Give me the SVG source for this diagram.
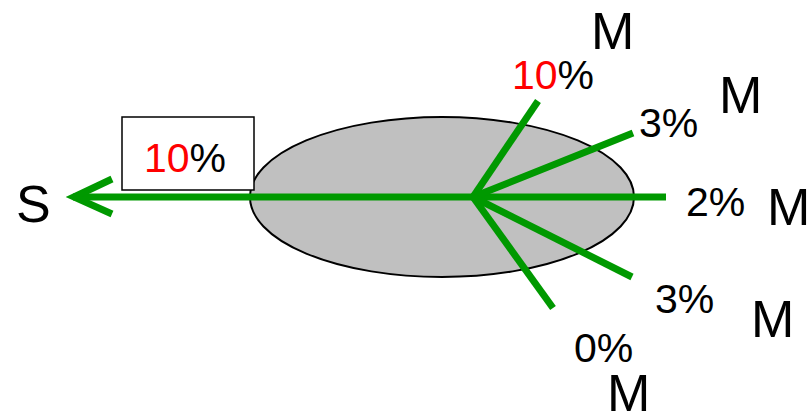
<svg xmlns="http://www.w3.org/2000/svg" width="809" height="419" viewBox="0 0 809 419">
  <style>
    .t { font-family: "Liberation Sans", Arial, sans-serif; fill: #000; }
    .big { font-size: 52px; }
    .pct { font-size: 41px; }
    .red { fill: #ff0000; }
    .flow { stroke: #009900; stroke-width: 7; fill: none; stroke-linecap: butt; }
  </style>
  <g id="cell">
    <ellipse cx="442" cy="197" rx="192" ry="80" fill="#c0c0c0" stroke="#000" stroke-width="2"/>
  </g>
  <g id="connectors">
    <line class="flow" x1="666" y1="197" x2="73" y2="197"/>
    <polyline class="flow" points="112,179 74,197 112,214" stroke-linecap="round" stroke-linejoin="miter"/>
    <line class="flow" x1="473" y1="197" x2="538" y2="101"/>
    <line class="flow" x1="473" y1="197" x2="633" y2="133"/>
    <line class="flow" x1="473" y1="197" x2="632" y2="277"/>
    <line class="flow" x1="473" y1="197" x2="553" y2="308"/>
  </g>
  <g id="label-box">
    <rect x="122" y="117" width="132" height="73" fill="#fff" stroke="#000" stroke-width="1.5"/>
    <text class="t pct" x="144" y="172"><tspan class="red">10</tspan>%</text>
  </g>
  <g id="node-S"><text class="t big" x="16" y="222">S</text></g>
  <g id="node-M1">
    <text class="t big" x="591" y="49">M</text>
    <text class="t pct" x="512" y="89"><tspan class="red">10</tspan>%</text>
  </g>
  <g id="node-M2">
    <text class="t big" x="719" y="113">M</text>
    <text class="t pct" x="639" y="137">3%</text>
  </g>
  <g id="node-M3">
    <text class="t big" x="767" y="225">M</text>
    <text class="t pct" x="686" y="216">2%</text>
  </g>
  <g id="node-M4">
    <text class="t big" x="751" y="337">M</text>
    <text class="t pct" x="655" y="313">3%</text>
  </g>
  <g id="node-M5">
    <text class="t big" x="607" y="411">M</text>
    <text class="t pct" x="574" y="362">0%</text>
  </g>
</svg>
